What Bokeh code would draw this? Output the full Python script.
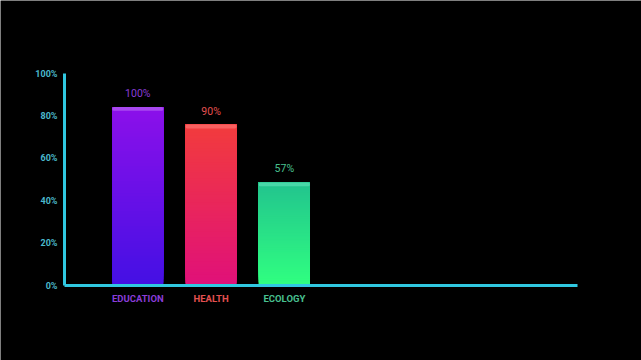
from bokeh.plotting import figure
from bokeh.models import Range1d, ColumnDataSource
from bokeh.core.properties import value
from bokeh.embed import file_html
from bokeh.resources import INLINE

# ---- data ----
categories = ["EDUCATION", "HEALTH", "ECOLOGY"]
value_labels = ["100%", "90%", "57%"]
bar_heights = [84.2, 75.9, 48.6]          # drawn bar heights (axis %)
y_ticks = [0, 20, 40, 60, 80, 100]
y_tick_labels = ["0%", "20%", "40%", "60%", "80%", "100%"]

# ---- styles ----
top_colors = ["#8c10ea", "#f23c3c", "#22c48e"]
bottom_colors = ["#4410e4", "#e0107a", "#30ff80"]
cap_colors = ["#a848f0", "#f86060", "#48d8a8"]
label_colors = ["#8a3cd8", "#e45050", "#48c090"]
axis_color = "#30c8e0"
tick_label_color = "#4ab8cc"
FONT = "Roboto"

W, H = 641, 360
PX_X = 513 / 7.0      # pixels per x unit
PX_Y = 212 / 100.0    # pixels per y unit
x0 = -64 / PX_X
y0 = -75 / PX_Y

p = figure(width=W, height=H, output_backend="svg", toolbar_location=None,
           x_range=Range1d(x0, x0 + W / PX_X), y_range=Range1d(y0, y0 + H / PX_Y),
           min_border=0, background_fill_color="black",
           border_fill_color="black", outline_line_color=None)
p.grid.visible = False
p.axis.visible = False

def hex2rgb(h):
    return tuple(int(h[i:i + 2], 16) for i in (1, 3, 5))

def mix(c1, c2, t):
    a, b = hex2rgb(c1), hex2rgb(c2)
    return "#%02x%02x%02x" % tuple(int(round(a[i] + (b[i] - a[i]) * t)) for i in range(3))

N = 60
width = 0.7
for i, (cat, h) in enumerate(zip(categories, bar_heights)):
    xc = i + 1
    bots, tops, cols = [], [], []
    for k in range(N):
        bots.append(h * k / N)
        tops.append(h)
        cols.append(mix(bottom_colors[i], top_colors[i], (k + 0.5) / N))
    src = ColumnDataSource(dict(left=[xc - width / 2] * N, right=[xc + width / 2] * N,
                                bottom=bots, top=tops, color=cols))
    p.quad(left="left", right="right", bottom="bottom", top="top", source=src,
           fill_color="color", line_color=None)
    # light cap
    p.quad(left=[xc - width / 2], right=[xc + width / 2], bottom=[h - 1.8], top=[h],
           fill_color=cap_colors[i], line_color=None, border_radius=3)

xs = [i + 1 for i in range(len(categories))]
# value labels
p.text(x=xs, y=bar_heights, text=value_labels, text_align="center",
       text_baseline="bottom", y_offset=-7, text_color=label_colors,
       text_font=value(FONT), text_font_size=value("10.5px"))

# category labels under the baseline
p.text(x=xs, y=[0] * len(categories), text=categories, text_align="center",
       text_baseline="top", y_offset=7, text_color=label_colors,
       text_font=value(FONT), text_font_size=value("9.5px"),
       text_font_style=value("bold"))

# y tick labels
p.text(x=[0] * len(y_ticks), y=y_ticks, text=y_tick_labels, text_align="right",
       text_baseline="middle", x_offset=-7, text_color=tick_label_color,
       text_font=value(FONT), text_font_size=value("9px"),
       text_font_style=value("bold"))

# axis lines
p.line(x=[0, 0], y=[0, 100], line_color=axis_color, line_width=3)
p.line(x=[0, 7], y=[0, 0], line_color=axis_color, line_width=3)

html = file_html(p, INLINE)
html = html.replace("<body>", '<body style="background:black;margin:0">', 1)
open("out.html", "w").write(html)
